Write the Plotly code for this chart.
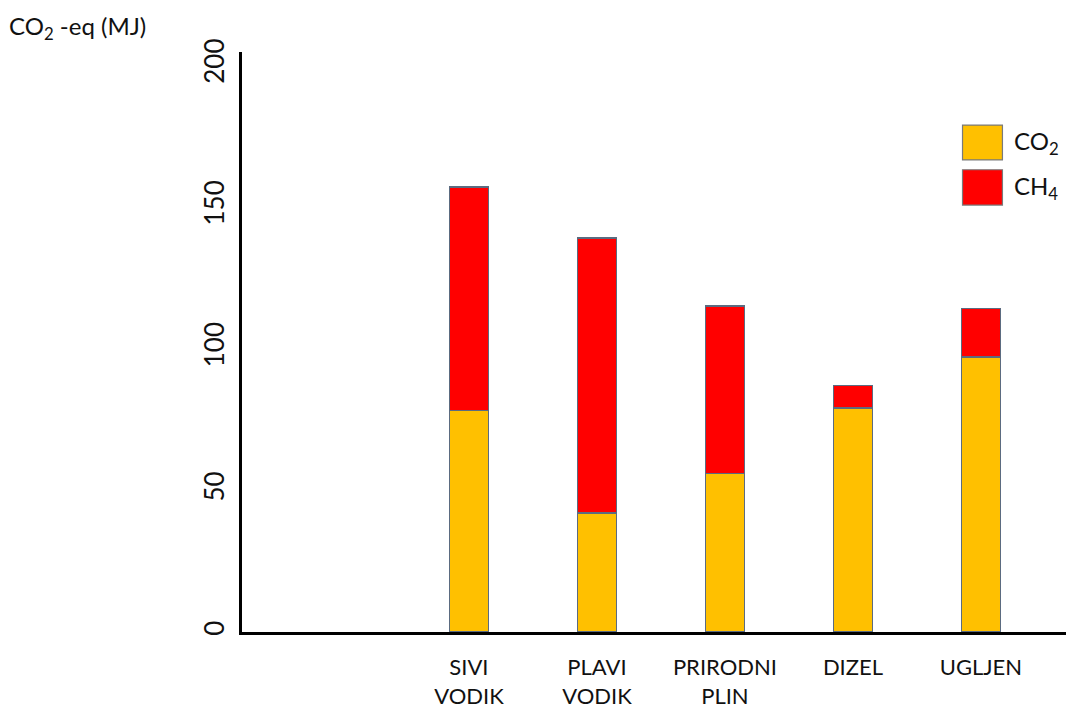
import plotly.graph_objects as go

categories = ["SIVI<br>VODIK", "PLAVI<br>VODIK", "PRIRODNI<br>PLIN", "DIZEL", "UGLJEN"]
co2_values = [78, 42, 56, 79, 97]
ch4_values = [79, 97, 59, 8, 17]
y_ticks = [0, 50, 100, 150, 200]

FONT = "Lato, Open Sans, sans-serif"
edge = dict(color="#5b6b80", width=1.2)

fig = go.Figure()
fig.add_trace(go.Bar(x=categories, y=co2_values, name="CO<sub>2</sub>",
                     marker=dict(color="#FFC000", line=edge), width=0.30,
                     showlegend=False))
fig.add_trace(go.Bar(x=categories, y=ch4_values, name="CH<sub>4</sub>",
                     marker=dict(color="#FF0000", line=edge), width=0.30,
                     showlegend=False))

# page body has an 8px default margin, so compensate in the figure size/margins
fig.update_layout(
    barmode="stack",
    width=1066, height=711,
    margin=dict(l=234, r=0, t=44, b=87),
    plot_bgcolor="white", paper_bgcolor="white",
    font=dict(family=FONT, color="#111111"),
    xaxis=dict(type="category", range=[-1.773, 4.727], showline=True,
               linecolor="black", linewidth=2.5, ticks="", showgrid=False,
               tickfont=dict(size=22), ticklabelstandoff=14, zeroline=False),
    yaxis=dict(range=[0, 204.6], tickvals=y_ticks, showline=True,
               linecolor="black", linewidth=2.5, ticks="", showgrid=False,
               tickangle=-90, tickfont=dict(size=26), ticklabelstandoff=5,
               zeroline=False),
)

# title at top-left
fig.add_annotation(text="CO<sub>2</sub> -eq (MJ)", xref="paper", yref="paper",
                   x=-0.283, y=1.075, xanchor="left", yanchor="top",
                   showarrow=False, font=dict(size=24, family=FONT))

# custom legend
legend_items = [("#FFC000", "CO<sub>2</sub>", 0.874, 0.814),
                ("#FF0000", "CH<sub>4</sub>", 0.797, 0.736)]
for color, label, top, bot in legend_items:
    fig.add_shape(type="rect", xref="paper", yref="paper",
                  x0=0.866, x1=0.914, y0=bot, y1=top,
                  fillcolor=color, line=dict(color="#7a7a7a", width=1.2))
    fig.add_annotation(text=label, xref="paper", yref="paper",
                       x=0.926, y=(top + bot) / 2, xanchor="left",
                       yanchor="middle", showarrow=False,
                       font=dict(size=24, family=FONT))

fig.write_html("out.html")
